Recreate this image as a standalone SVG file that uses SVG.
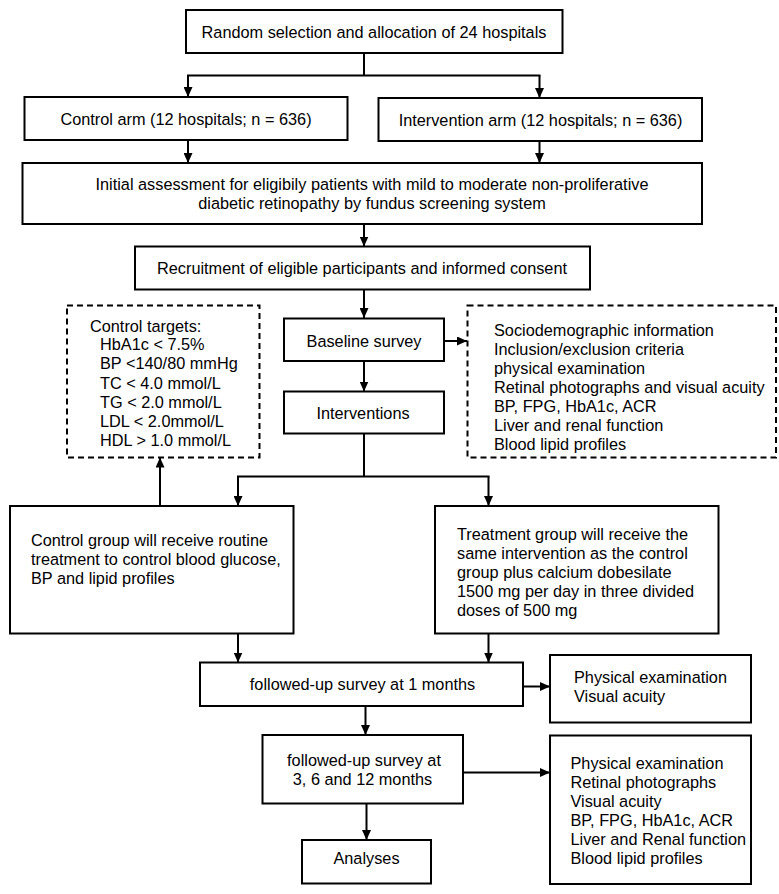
<svg xmlns="http://www.w3.org/2000/svg" width="779" height="894" viewBox="0 0 779 894">
<style>
.b{fill:#fff;stroke:#000;stroke-width:2}
.d{fill:#fff;stroke:#000;stroke-width:2;stroke-dasharray:6 4}
text{font-family:"Liberation Sans",Arial,Helvetica,sans-serif;font-size:16.3px;fill:#000}
.m{text-anchor:middle}
.c{fill:none;stroke:#000;stroke-width:2}
</style>
<defs>
<marker id="ah" markerUnits="userSpaceOnUse" markerWidth="11" markerHeight="9" refX="10" refY="4.5" orient="auto">
<path d="M0,0 L10,4.5 L0,9 z" fill="#000"/>
</marker>
</defs>
<rect width="779" height="894" fill="#fff"/>
<g id="connectors">
<path class="c" d="M364,53 V75.5 M187,75.5 H540.5"/>
<path class="c" d="M188,75.5 V97" marker-end="url(#ah)"/>
<path class="c" d="M539.5,75.5 V98" marker-end="url(#ah)"/>
<path class="c" d="M188,140 V163" marker-end="url(#ah)"/>
<path class="c" d="M539.5,141 V163" marker-end="url(#ah)"/>
<path class="c" d="M364,224 V246.5" marker-end="url(#ah)"/>
<path class="c" d="M364,289.5 V318" marker-end="url(#ah)"/>
<path class="c" d="M444,341 H467" stroke-width="2.5" marker-end="url(#ah)"/>
<path class="c" d="M364,361 V391.5" marker-end="url(#ah)"/>
<path class="c" d="M364,433.5 V476.5 M237,476.5 H489.5"/>
<path class="c" d="M238,476.5 V506" marker-end="url(#ah)"/>
<path class="c" d="M488.5,476.5 V506" marker-end="url(#ah)"/>
<path class="c" d="M160,506 V457.5" marker-end="url(#ah)"/>
<path class="c" d="M238,633.5 V662.5" marker-end="url(#ah)"/>
<path class="c" d="M488.5,633.5 V662.5" marker-end="url(#ah)"/>
<path class="c" d="M523,686.5 H550" stroke-width="2.5" marker-end="url(#ah)"/>
<path class="c" d="M365.5,706 V735" marker-end="url(#ah)"/>
<path class="c" d="M463,772.5 H550" stroke-width="2.5" marker-end="url(#ah)"/>
<path class="c" d="M366.5,803.5 V840" marker-end="url(#ah)"/>
</g>
<g id="random">
<rect class="b" x="186" y="10" width="376.5" height="43"/>
<text class="m" x="374" y="37.5">Random selection and allocation of 24 hospitals</text>
</g>
<g id="control-arm">
<rect class="b" x="24.5" y="97" width="323" height="43"/>
<text class="m" x="186" y="124.5">Control arm (12 hospitals; n = 636)</text>
</g>
<g id="intervention-arm">
<rect class="b" x="378.5" y="98" width="323.5" height="43"/>
<text class="m" x="540.5" y="126">Intervention arm (12 hospitals; n = 636)</text>
</g>
<g id="initial">
<rect class="b" x="22.5" y="163" width="679.5" height="61"/>
<text class="m" x="372" y="190.3">Initial assessment for eligibily patients with mild to moderate non-proliferative</text>
<text class="m" x="372" y="209.3">diabetic retinopathy by fundus screening system</text>
</g>
<g id="recruitment">
<rect class="b" x="135" y="246.5" width="455" height="43"/>
<text class="m" x="362" y="274">Recruitment of eligible participants and informed consent</text>
</g>
<g id="control-targets">
<rect class="d" x="67" y="305.5" width="192.5" height="152"/>
<text x="90" y="332">Control targets:</text>
<text x="100" y="350.3">HbA1c &lt; 7.5%</text>
<text x="100" y="369.3">BP &lt;140/80 mmHg</text>
<text x="100" y="388.6">TC &lt; 4.0 mmol/L</text>
<text x="100" y="407.8">TG &lt; 2.0 mmol/L</text>
<text x="100" y="426.6">LDL &lt; 2.0mmol/L</text>
<text x="100" y="445.7">HDL &gt; 1.0 mmol/L</text>
</g>
<g id="baseline">
<rect class="b" x="284" y="318.5" width="160" height="42.5"/>
<text class="m" x="364" y="347">Baseline survey</text>
</g>
<g id="baseline-items">
<rect class="d" x="467.5" y="305.5" width="308.5" height="152"/>
<text x="494" y="336">Sociodemographic information</text>
<text x="494" y="355.2">Inclusion/exclusion criteria</text>
<text x="494" y="374.2">physical examination</text>
<text x="494" y="393.2">Retinal photographs and visual acuity</text>
<text x="494" y="412">BP, FPG, HbA1c, ACR</text>
<text x="494" y="431">Liver and renal function</text>
<text x="494" y="449.8">Blood lipid profiles</text>
</g>
<g id="interventions">
<rect class="b" x="284" y="391.5" width="160" height="42"/>
<text class="m" x="363" y="419.3">Interventions</text>
</g>
<g id="control-group">
<rect class="b" x="10" y="506" width="283.5" height="127.5"/>
<text x="31" y="546.3">Control group will receive routine</text>
<text x="31" y="565.3">treatment to control blood glucose,</text>
<text x="31" y="584.3">BP and lipid profiles</text>
</g>
<g id="treatment-group">
<rect class="b" x="435" y="506" width="283.5" height="127.5"/>
<text x="457" y="540">Treatment group will receive the</text>
<text x="457" y="559">same intervention as the control</text>
<text x="457" y="578">group plus calcium dobesilate</text>
<text x="457" y="596.8">1500 mg per day in three divided</text>
<text x="457" y="615.7">doses of 500 mg</text>
</g>
<g id="followup1">
<rect class="b" x="200" y="662.5" width="323" height="43.5"/>
<text class="m" x="362.5" y="690.3">followed-up survey at 1 months</text>
</g>
<g id="followup1-items">
<rect class="b" x="550" y="655" width="201" height="67.5"/>
<text x="574" y="682.7">Physical examination</text>
<text x="574" y="702">Visual acuity</text>
</g>
<g id="followup2">
<rect class="b" x="262.5" y="735" width="200.5" height="68.5"/>
<text class="m" x="364" y="766.3">followed-up survey at</text>
<text class="m" x="362.5" y="785.3">3, 6 and 12 months</text>
</g>
<g id="followup2-items">
<rect class="b" x="550" y="735.5" width="201" height="148.5"/>
<text x="570.5" y="768.7">Physical examination</text>
<text x="570.5" y="787.7">Retinal photographs</text>
<text x="570.5" y="807">Visual acuity</text>
<text x="570.5" y="826">BP, FPG, HbA1c, ACR</text>
<text x="570.5" y="844.7">Liver and Renal function</text>
<text x="570.5" y="863.7">Blood lipid profiles</text>
</g>
<g id="analyses">
<rect class="b" x="302" y="840" width="129" height="43.5"/>
<text class="m" x="366.5" y="863.7">Analyses</text>
</g>
</svg>
